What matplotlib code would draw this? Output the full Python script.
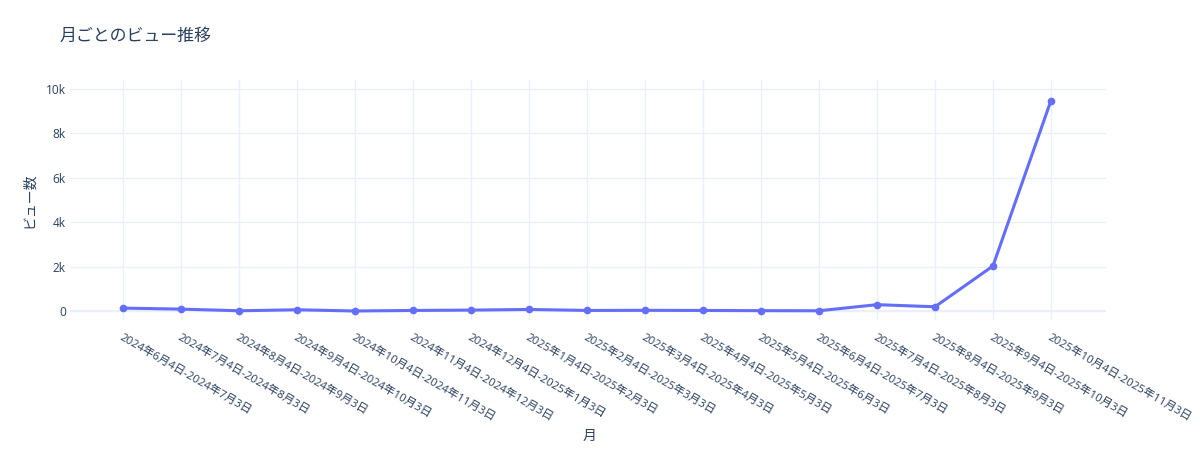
import matplotlib
matplotlib.use("Agg")
from matplotlib import pyplot as plt
from matplotlib.ticker import FuncFormatter

plt.rcParams["font.family"] = ["Open Sans", "Noto Sans CJK JP", "DejaVu Sans"]

TEXT = "#2a3f5f"
LINE = "#636efa"
GRID = "#ebf0f8"

periods = [
    "2024年6月4日-2024年7月3日",
    "2024年7月4日-2024年8月3日",
    "2024年8月4日-2024年9月3日",
    "2024年9月4日-2024年10月3日",
    "2024年10月4日-2024年11月3日",
    "2024年11月4日-2024年12月3日",
    "2024年12月4日-2025年1月3日",
    "2025年1月4日-2025年2月3日",
    "2025年2月4日-2025年3月3日",
    "2025年3月4日-2025年4月3日",
    "2025年4月4日-2025年5月3日",
    "2025年5月4日-2025年6月3日",
    "2025年6月4日-2025年7月3日",
    "2025年7月4日-2025年8月3日",
    "2025年8月4日-2025年9月3日",
    "2025年9月4日-2025年10月3日",
    "2025年10月4日-2025年11月3日",
]
views = [135, 90, 15, 60, 5, 30, 45, 75, 30, 35, 30, 20, 15, 290, 195, 2030, 9470]

y_ticks = [0, 2000, 4000, 6000, 8000, 10000]


def k_format(v, _pos):
    return "0" if v == 0 else f"{int(v / 1000)}k"


fig = plt.figure(figsize=(12, 4.5), dpi=100)
ax = fig.add_axes([70 / 1200, 1 - 320 / 450, (1106 - 70) / 1200, (320 - 80) / 450])

xs = list(range(len(periods)))
ax.plot(xs, views, color=LINE, linewidth=2.2, marker="o", markersize=4.5, zorder=3)

ax.set_xlim(-0.92, len(periods) - 1 + 0.95)
ax.set_ylim(-400, 10400)

ax.set_xticks(xs)
ax.set_xticklabels(periods, rotation=-30, ha="left", va="top", rotation_mode="anchor")
ax.set_yticks(y_ticks)
ax.yaxis.set_major_formatter(FuncFormatter(k_format))

ax.tick_params(axis="both", length=0, labelsize=8.6, colors=TEXT)
ax.tick_params(axis="x", labelsize=8.2, pad=9)
ax.tick_params(axis="y", pad=3)

ax.grid(True, color=GRID, linewidth=1)
ax.axhline(0, color=GRID, linewidth=1.5, zorder=1)
for s in ax.spines.values():
    s.set_visible(False)
ax.set_axisbelow(True)

fig.text(60 / 1200, 1 - 37 / 450, "月ごとのビュー推移", fontsize=12.2, color=TEXT,
         ha="left", va="center")
fig.text(30 / 1200, 1 - 200 / 450, "ビュー数", fontsize=10, color=TEXT,
         rotation=90, ha="center", va="center")
fig.text(590 / 1200, 1 - 436 / 450, "月", fontsize=10, color=TEXT,
         ha="center", va="center")

fig.savefig("out.png", dpi=100, facecolor="white")
